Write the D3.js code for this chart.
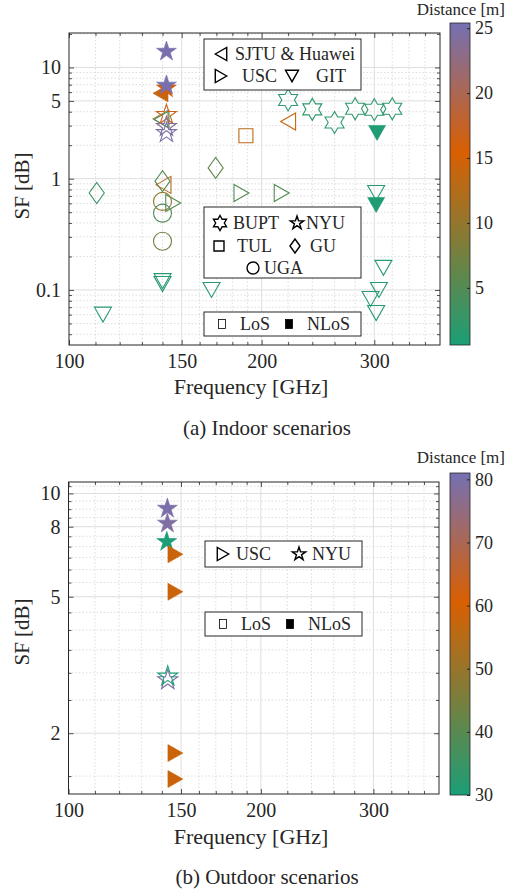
<!DOCTYPE html>
<html><head><meta charset="utf-8">
<script src="https://cdn.jsdelivr.net/npm/d3@7"></script>
<style>
body{margin:0;background:#fff}
svg{display:block}
</style>
</head><body>
<svg id="c" width="506" height="890"></svg>
<script>
// ---------------- DATA ----------------
const xTickValues = [100, 150, 200, 300];
const xMinorValues = [110,120,130,140,160,170,180,190,220,240,260,280,320,340,360];

const indoorYTicks = [0.1, 1, 5, 10];
const indoorYMinor = [0.04,0.05,0.06,0.07,0.08,0.09,0.2,0.3,0.4,0.5,0.6,0.7,0.8,0.9,2,3,4,6,7,8,9,20];
const indoorCbTicks = [5, 10, 15, 20, 25];

const outdoorYTicks = [2, 5, 8, 10];
const outdoorYMinor = [1.5,2.5,3,3.5,4,4.5,5.5,6,6.5,7,7.5,8.5,9,9.5,10.5];
const outdoorCbTicks = [30, 40, 50, 60, 70, 80];

// Indoor measurements (marker: v=GIT, d=GU, >=USC, o=UGA, s=TUL, <=SJTU&Huawei, h=BUPT, p=NYU)
const indoorMarker = ['v','v','v','v','v','v','v','v','v', 'v','v', 'd','d','d', '>','>','>', 'o','o','o', 's', '<','<','<','<', 'h','h','h','h','h','h', 'p','p','p', '<', 'p','p','p'];
const indoorFreq   = [140,140,167,113,302,310,305,296,302, 303,302, 110.5,140,169.5, 145.5,186,215, 140,140,140, 189, 140.5,220,139,139.5, 220,240,260,280,300,320, 142,142,142, 139, 142,142,142];
const indoorSF     = [0.12,0.113,0.1,0.06,0.744,0.158,0.1,0.083,0.062, 2.58,0.58, 0.744,0.95,1.25, 0.605,0.744,0.744, 0.625,0.49,0.274, 2.43, 0.88,3.27,3.45,3.4, 5.1,4.2,3.2,4.25,4.17,4.25, 3.76,2.93,2.58, 5.85, 6.5,6.9,13.9];
const indoorDist   = [1.5,1.5,1.5,1.5,1.5,1.5,1.5,1.5,1.5, 1,1, 3,5,6, 5,5,5, 9.5,5,7, 13, 12,14,11,5, 2,2,2,2,2,2, 17,24,25, 14, 16,25,25];
const indoorNLoS   = [0,0,0,0,0,0,0,0,0, 1,1, 0,0,0, 0,0,0, 0,0,0, 0, 0,0,0,0, 0,0,0,0,0,0, 0,0,0, 1, 1,1,1];

// Outdoor measurements
const outdoorMarker = ['p','p', 'p','p','p', '>','>','>','>'];
const outdoorFreq   = [143,143, 142.8,142.8,142.5, 147,147,147,147];
const outdoorSF     = [2.86,2.93, 9.04,8.18,7.23, 6.65,5.17,1.75,1.47];
const outdoorDist   = [79,30, 80,79,30, 58,58,58,58];
const outdoorNLoS   = [0,0, 1,1,1, 1,1,1,1];

// ---------------- STYLE ----------------
const FONT = "'Liberation Serif', 'DejaVu Serif', 'Times New Roman', serif";
const cmapStops = [0, 0.6, 1];
const cmapColors = ["#1b9e77", "#d95f02", "#7570b3"];
const markerSize = {p:10.5, h:11, '<':8.5, '>':8.5, v:8.5, s:7, d:10.5, o:9};
const legendSize = {p:7, h:7.5, '<':6.5, '>':6.5, v:6.5, s:5, d:7, o:6};

function symbolType(shape){
  return {draw(ctx, s){
    const P = pts => { pts.forEach((p,i)=> i ? ctx.lineTo(p[0]*s,p[1]*s) : ctx.moveTo(p[0]*s,p[1]*s)); ctx.closePath(); };
    if(shape==='o'){ ctx.moveTo(s,0); ctx.arc(0,0,s,0,2*Math.PI); return; }
    if(shape==='p' || shape==='h'){
      const n = shape==='p'?5:6, ri = shape==='p'?0.382:0.577, pts=[];
      for(let i=0;i<2*n;i++){ const a=-Math.PI/2+i*Math.PI/n; const r=i%2?ri:1; pts.push([r*Math.cos(a), r*Math.sin(a)]); }
      P(pts); return;
    }
    if(shape==='<') P([[-0.88,0],[0.88,-1],[0.88,1]]);
    if(shape==='>') P([[0.88,0],[-0.88,-1],[-0.88,1]]);
    if(shape==='v') P([[-1,-0.88],[1,-0.88],[0,0.88]]);
    if(shape==='s') P([[-1,-1],[1,-1],[1,1],[-1,1]]);
    if(shape==='d') P([[0,-1],[0.72,0],[0,1],[-0.72,0]]);
  }};
}
const sym = (shape, s) => d3.symbol().type(symbolType(shape)).size(s)();

const svg = d3.select("#c");
let gradId = 0;

function drawPanel(P){
  const x = d3.scaleLog().domain(P.xDomain).range([P.left, P.right]);
  const y = d3.scaleLog().domain(P.yDomain).range([P.bottom, P.top]);
  const cDom = P.cDomain;
  const color = d3.scaleLinear().domain(cmapStops.map(t => cDom[0] + t*(cDom[1]-cDom[0]))).range(cmapColors);
  const cb = d3.scaleLinear().domain(cDom).range([P.cbBottom, P.cbTop]);
  const g = svg.append("g");

  g.append("rect").attr("x",P.left).attr("y",P.top).attr("width",P.right-P.left).attr("height",P.bottom-P.top).attr("fill","#fff");

  // minor grid (dotted)
  const gm = g.append("g").attr("stroke","#d4d4d4").attr("stroke-width",0.8).attr("stroke-dasharray","1.5,2");
  gm.selectAll(".vx").data(xMinorValues).join("line").attr("x1",d=>x(d)).attr("x2",d=>x(d)).attr("y1",P.top).attr("y2",P.bottom);
  gm.selectAll(".hy").data(P.yMinor).join("line").attr("x1",P.left).attr("x2",P.right).attr("y1",d=>y(d)).attr("y2",d=>y(d));
  // major grid
  const gM = g.append("g").attr("stroke","#dedede").attr("stroke-width",1);
  gM.selectAll(".vx").data(xTickValues.filter(v=>v>P.xDomain[0])).join("line").attr("x1",d=>x(d)).attr("x2",d=>x(d)).attr("y1",P.top).attr("y2",P.bottom);
  gM.selectAll(".hy").data(P.yTicks).join("line").attr("x1",P.left).attr("x2",P.right).attr("y1",d=>y(d)).attr("y2",d=>y(d));

  // axes (inward ticks)
  const axB = g.append("g").attr("transform",`translate(0,${P.bottom})`)
    .call(d3.axisBottom(x).tickValues(xTickValues).tickFormat(d3.format("d")).tickSizeInner(-5).tickSizeOuter(0).tickPadding(9));
  axB.selectAll("text").style("font-size","20px");
  g.append("g").attr("transform",`translate(0,${P.bottom})`)
    .call(d3.axisBottom(x).tickValues(xMinorValues).tickFormat("").tickSizeInner(-3).tickSizeOuter(0));
  g.append("g").attr("transform",`translate(0,${P.top})`)
    .call(d3.axisTop(x).tickValues(xTickValues).tickFormat("").tickSizeInner(-5).tickSizeOuter(0));
  g.append("g").attr("transform",`translate(0,${P.top})`)
    .call(d3.axisTop(x).tickValues(xMinorValues).tickFormat("").tickSizeInner(-3).tickSizeOuter(0));
  const axL = g.append("g").attr("transform",`translate(${P.left},0)`)
    .call(d3.axisLeft(y).tickValues(P.yTicks).tickFormat(d=>String(d)).tickSizeInner(-5).tickSizeOuter(0).tickPadding(8));
  axL.selectAll("text").style("font-size","20px");
  g.append("g").attr("transform",`translate(${P.left},0)`)
    .call(d3.axisLeft(y).tickValues(P.yMinor).tickFormat("").tickSizeInner(-3).tickSizeOuter(0));
  g.append("g").attr("transform",`translate(${P.right},0)`)
    .call(d3.axisRight(y).tickValues(P.yTicks).tickFormat("").tickSizeInner(-5).tickSizeOuter(0));
  g.append("g").attr("transform",`translate(${P.right},0)`)
    .call(d3.axisRight(y).tickValues(P.yMinor).tickFormat("").tickSizeInner(-3).tickSizeOuter(0));
  g.selectAll(".domain").remove();
  g.selectAll(".tick line").attr("stroke","#262626").attr("stroke-width",0.8);

  // box
  g.append("rect").attr("x",P.left).attr("y",P.top).attr("width",P.right-P.left).attr("height",P.bottom-P.top)
    .attr("fill","none").attr("stroke","#262626").attr("stroke-width",1);

  // points
  const idx = d3.range(P.freq.length);
  g.append("g").selectAll("path").data(idx).join("path")
    .attr("transform", i => `translate(${x(P.freq[i])},${y(P.sf[i])})`)
    .attr("d", i => sym(P.marker[i], markerSize[P.marker[i]]))
    .attr("fill", i => P.nlos[i] ? color(P.dist[i]) : "none")
    .attr("stroke", i => color(P.dist[i]))
    .attr("stroke-width", i => P.nlos[i] ? 0.6 : 1.1);

  // legends
  P.legends.forEach(L => {
    const lg = g.append("g");
    lg.append("rect").attr("x",L.box[0]).attr("y",L.box[1]).attr("width",L.box[2]-L.box[0]).attr("height",L.box[3]-L.box[1])
      .attr("fill","#fff").attr("stroke","#262626").attr("stroke-width",1);
    L.items.forEach(it => {
      if(it.sym === 'los' || it.sym === 'nlos'){
        lg.append("rect").attr("x",it.sx-3.5).attr("y",it.sy-4.5).attr("width",7).attr("height",9)
          .attr("fill", it.sym==='nlos' ? "#000" : "#fff").attr("stroke","#000").attr("stroke-width",0.8);
      } else {
        lg.append("path").attr("transform",`translate(${it.sx},${it.sy})`).attr("d", sym(it.sym, legendSize[it.sym]))
          .attr("fill","none").attr("stroke","#000").attr("stroke-width",1.4);
      }
      lg.append("text").attr("x",it.tx).attr("y",it.sy).attr("dy","0.35em").style("font-size","18px").text(it.label);
    });
  });

  // colorbar
  const id = "grad" + (gradId++);
  const grad = svg.append("defs").append("linearGradient").attr("id",id).attr("x1",0).attr("x2",0).attr("y1",1).attr("y2",0);
  d3.range(0, 1.0001, 0.05).forEach(t => grad.append("stop").attr("offset", t).attr("stop-color", color(cDom[0] + t*(cDom[1]-cDom[0]))));
  g.append("rect").attr("x",P.cbLeft).attr("y",P.cbTop).attr("width",P.cbRight-P.cbLeft).attr("height",P.cbBottom-P.cbTop)
    .attr("fill",`url(#${id})`).attr("stroke","#262626").attr("stroke-width",0.8);
  const axC = g.append("g").attr("transform",`translate(${P.cbRight},0)`)
    .call(d3.axisRight(cb).tickValues(P.cbTicks).tickFormat(d3.format("d")).tickSizeInner(-3).tickSizeOuter(0).tickPadding(5));
  axC.select(".domain").remove();
  axC.selectAll(".tick line").attr("stroke","#262626");
  axC.selectAll("text").style("font-size","18px");
  g.append("text").attr("x",505).attr("y",P.cbTitleY).attr("text-anchor","end").style("font-size","17px").text("Distance [m]");

  // axis labels and caption
  g.append("text").attr("transform",`translate(22,${P.yLabelY}) rotate(-90)`).attr("text-anchor","middle").attr("dy","0.35em")
    .style("font-size","21px").text("SF [dB]");
  g.append("text").attr("x",251).attr("y",P.xLabelY).attr("text-anchor","middle").attr("dy","0.35em").style("font-size","22px").text("Frequency [GHz]");
  g.append("text").attr("x",267).attr("y",P.captionY).attr("text-anchor","middle").attr("dy","0.35em").style("font-size","21px").text(P.caption);

  g.selectAll("text").style("font-family", FONT).attr("fill","#262626");
}

drawPanel({
  xDomain:[100,380], yDomain:[0.032,20.4], cDomain:[0.6,25.4],
  left:69, right:440, top:33, bottom:345,
  cbLeft:450, cbRight:470, cbTop:23, cbBottom:345, cbTitleY:15, cbTicks:indoorCbTicks,
  yTicks:indoorYTicks, yMinor:indoorYMinor,
  freq:indoorFreq, sf:indoorSF, dist:indoorDist, marker:indoorMarker, nlos:indoorNLoS,
  yLabelY:186, xLabelY:386, captionY:428, caption:"(a)  Indoor scenarios",
  legends:[
    {box:[204,39,361,90], items:[
      {sym:'<', sx:221, sy:54, label:"SJTU & Huawei", tx:235},
      {sym:'>', sx:221, sy:76, label:"USC", tx:242},
      {sym:'v', sx:292, sy:76, label:"GIT", tx:316}]},
    {box:[204,207,361,278], items:[
      {sym:'h', sx:220, sy:223, label:"BUPT", tx:233},
      {sym:'p', sx:297, sy:223, label:"NYU", tx:306},
      {sym:'s', sx:219, sy:246, label:"TUL", tx:237},
      {sym:'d', sx:295, sy:246, label:"GU", tx:310},
      {sym:'o', sx:253, sy:268, label:"UGA", tx:264}]},
    {box:[204,312,361,336], items:[
      {sym:'los', sx:222, sy:324, label:"LoS", tx:240},
      {sym:'nlos', sx:289, sy:324, label:"NLoS", tx:307}]}
  ]
});

drawPanel({
  xDomain:[100,380], yDomain:[1.33,10.8], cDomain:[30,81],
  left:68.5, right:439, top:482, bottom:794,
  cbLeft:450, cbRight:470, cbTop:473, cbBottom:795, cbTitleY:463, cbTicks:outdoorCbTicks,
  yTicks:outdoorYTicks, yMinor:outdoorYMinor,
  freq:outdoorFreq, sf:outdoorSF, dist:outdoorDist, marker:outdoorMarker, nlos:outdoorNLoS,
  yLabelY:632, xLabelY:836, captionY:877, caption:"(b)  Outdoor scenarios",
  legends:[
    {box:[205,541,362,567], items:[
      {sym:'>', sx:223, sy:554, label:"USC", tx:236},
      {sym:'p', sx:299, sy:554, label:"NYU", tx:312}]},
    {box:[205,612,362,636], items:[
      {sym:'los', sx:223, sy:624, label:"LoS", tx:241},
      {sym:'nlos', sx:290, sy:624, label:"NLoS", tx:308}]}
  ]
});
</script>
</body></html>
